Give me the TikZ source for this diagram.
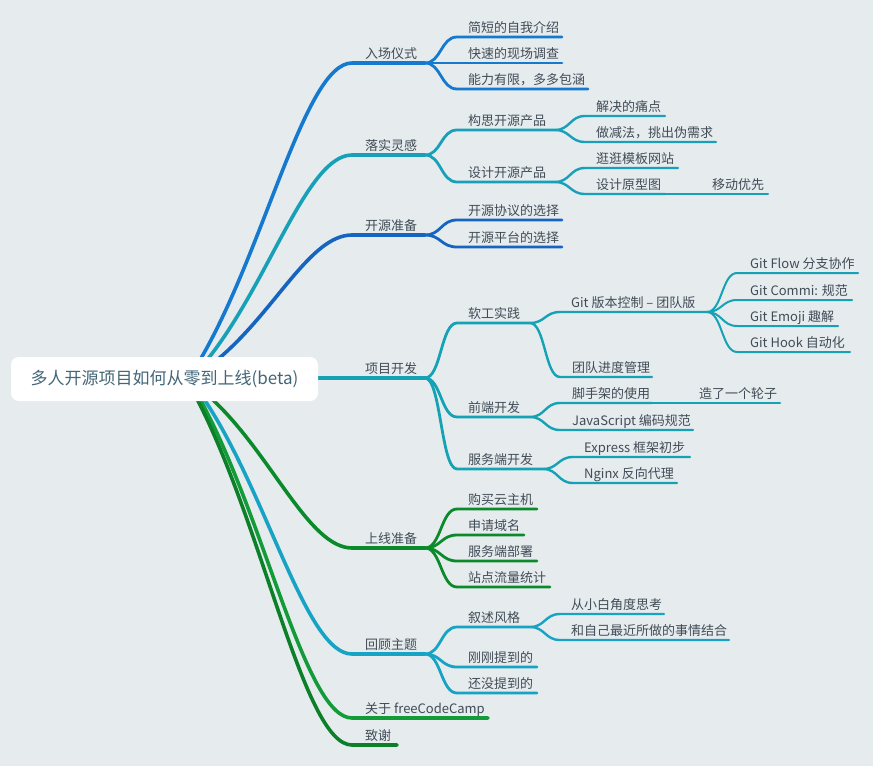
\documentclass[tikz,border=0pt]{standalone}
\usepackage{fontspec}
\setmainfont{Noto Sans CJK SC}
\usetikzlibrary{calc}
\pgfdeclarelayer{bg}
\pgfsetlayers{bg,main}
\definecolor{bgc}{HTML}{E6EBEE}
\definecolor{txt}{HTML}{404C56}
\definecolor{rootc}{HTML}{436678}
\definecolor{cA}{HTML}{1479CF}
\definecolor{cB}{HTML}{17A0B7}
\definecolor{cC}{HTML}{1565C0}
\definecolor{cD}{HTML}{14A2B4}
\definecolor{cE}{HTML}{0B8A2B}
\definecolor{cF}{HTML}{17A4C4}
\definecolor{cG}{HTML}{129B38}
\definecolor{cH}{HTML}{0C8028}
\newcommand\mmnode[6]{%
  \node[lbl] (#1) at (#3,#4-5) {#6};
  \coordinate (#1-l) at (#2,#4);
  \coordinate (#1-r) at (#5,#4);}
\newcommand\mmlink[3]{%
  \draw[#1] let \p1=(#2), \p2=(#3-l) in (\p1) .. controls ({0.5*\x1+0.5*\x2},\y1) and ({0.5*\x1+0.5*\x2},\y2) .. (\p2) -- (#3-r);}
\begin{document}
\begin{tikzpicture}[x=1pt,y=-1pt,
  lbl/.style={anchor=base west, inner sep=0pt, text=txt, font=\fontsize{13}{15}\selectfont},
  rootbox/.style={fill=white, rounded corners=8pt, minimum width=307pt, minimum height=44pt, inner sep=0pt, text=rootc, font=\fontsize{17}{20}\selectfont},
  Lone/.style={line width=3.6pt, line cap=round},
  Ltwo/.style={line width=2.8pt, line cap=round},
  Lthree/.style={line width=2.4pt, line cap=round},
  Lfour/.style={line width=2pt, line cap=round}]
\useasboundingbox (0,0) rectangle (873,766);
\begin{pgfonlayer}{bg}
\fill[bgc] (0,0) rectangle (873,766);
\end{pgfonlayer}

\node[rootbox] (root) at (164.5,379) {多人开源项目如何从零到上线(beta)};

% start points of main branches (under the root box)
\coordinate (s1) at (200,360);
\coordinate (s2) at (207,360);
\coordinate (s3) at (217,360);
\coordinate (s5) at (212,399);
\coordinate (s6) at (204,399);
\coordinate (s7) at (200,399);
\coordinate (s8) at (197,399);

% level 1
\mmnode{rc}{352}{365}{63}{425}{入场仪式}
\mmnode{lg}{352}{365}{155}{425}{落实灵感}
\mmnode{zb}{352}{365}{235}{425}{开源准备}
\mmnode{kf}{318}{365}{378}{425}{项目开发}
\mmnode{sx}{352}{365}{548}{425}{上线准备}
\mmnode{hg}{352}{365}{654}{425}{回顾主题}
\mmnode{fcc}{352}{365}{718}{488}{关于 freeCodeCamp}
\mmnode{zx}{352}{365}{745}{397}{致谢}

% level 2
\mmnode{rca}{457}{468}{37}{562}{简短的自我介绍}
\mmnode{rcb}{457}{468}{63}{562}{快速的现场调查}
\mmnode{rcc}{457}{468}{89}{588}{能力有限，多多包涵}
\mmnode{lga}{457}{468}{130}{555}{构思开源产品}
\mmnode{lgb}{457}{468}{182}{555}{设计开源产品}
\mmnode{zba}{457}{468}{220}{562}{开源协议的选择}
\mmnode{zbb}{457}{468}{247}{562}{开源平台的选择}
\mmnode{kfa}{457}{468}{323}{530}{软工实践}
\mmnode{kfb}{457}{468}{417}{530}{前端开发}
\mmnode{kfc}{457}{468}{469}{543}{服务端开发}
\mmnode{sxa}{457}{468}{509}{537}{购买云主机}
\mmnode{sxb}{457}{468}{535}{524}{申请域名}
\mmnode{sxc}{457}{468}{561}{537}{服务端部署}
\mmnode{sxd}{457}{468}{587}{550}{站点流量统计}
\mmnode{hga}{457}{468}{627}{530}{叙述风格}
\mmnode{hgb}{457}{468}{667}{537}{刚刚提到的}
\mmnode{hgc}{457}{468}{693}{537}{还没提到的}

% level 3
\mmnode{lgaa}{585}{596}{116}{665}{解决的痛点}
\mmnode{lgab}{585}{596}{142}{716}{做减法，挑出伪需求}
\mmnode{lgba}{585}{596}{168}{678}{逛逛模板网站}
\mmnode{lgbb}{585}{596}{194}{665}{设计原型图}
\mmnode{kfaa}{560}{571}{312}{707}{Git 版本控制 – 团队版}
\mmnode{kfab}{560}{572}{377}{652}{团队进度管理}
\mmnode{kfba}{560}{572}{403}{652}{脚手架的使用}
\mmnode{kfbb}{560}{572}{430}{693}{JavaScript 编码规范}
\mmnode{kfca}{573}{584}{457}{690}{Express 框架初步}
\mmnode{kfcb}{573}{584}{483}{677}{Nginx 反向代理}
\mmnode{hgaa}{560}{571}{614}{664}{从小白角度思考}
\mmnode{hgab}{560}{571}{640}{729}{和自己最近所做的事情结合}

% level 4
\mmnode{ga}{737}{750}{273}{858}{Git Flow 分支协作}
\mmnode{gb}{737}{750}{300}{852}{Git Commi: 规范}
\mmnode{gc}{737}{750}{326}{838}{Git Emoji 趣解}
\mmnode{gd}{737}{750}{352}{850}{Git Hook 自动化}
\mmnode{yd}{690}{712}{194}{768}{移动优先}
\mmnode{lz}{680}{699}{403}{780}{造了一个轮子}

\begin{pgfonlayer}{bg}
% main branches
\draw[Lone,draw=cA] (s1) .. controls (265,249) and (305,63) .. (rc-l) -- (rc-r);
\draw[Lone,draw=cB] (s2) .. controls (269,283) and (307,155) .. (lg-l) -- (lg-r);
\draw[Lone,draw=cC] (s3) .. controls (275,312) and (310,235) .. (zb-l) -- (zb-r);
\draw[Lone,draw=cD] (root.east |- kf-l) -- (kf-r);
\draw[Lone,draw=cE] (s5) .. controls (272,455) and (309,548) .. (sx-l) -- (sx-r);
\draw[Lone,draw=cF] (s6) .. controls (268,495) and (306,654) .. (hg-l) -- (hg-r);
\draw[Lone,draw=cG] (s7) .. controls (265,518) and (305,718) .. (fcc-l) -- (fcc-r);
\draw[Lone,draw=cH] (s8) .. controls (264,528) and (304,745) .. (zx-l) -- (zx-r);

% level 2 links
\mmlink{Ltwo,draw=cA}{rc-r}{rca}
\mmlink{Ltwo,draw=cA}{rc-r}{rcb}
\mmlink{Ltwo,draw=cA}{rc-r}{rcc}
\mmlink{Ltwo,draw=cB}{lg-r}{lga}
\mmlink{Ltwo,draw=cB}{lg-r}{lgb}
\mmlink{Ltwo,draw=cC}{zb-r}{zba}
\mmlink{Ltwo,draw=cC}{zb-r}{zbb}
\mmlink{Ltwo,draw=cD}{kf-r}{kfa}
\mmlink{Ltwo,draw=cD}{kf-r}{kfb}
\mmlink{Ltwo,draw=cD}{kf-r}{kfc}
\mmlink{Ltwo,draw=cE}{sx-r}{sxa}
\mmlink{Ltwo,draw=cE}{sx-r}{sxb}
\mmlink{Ltwo,draw=cE}{sx-r}{sxc}
\mmlink{Ltwo,draw=cE}{sx-r}{sxd}
\mmlink{Ltwo,draw=cF}{hg-r}{hga}
\mmlink{Ltwo,draw=cF}{hg-r}{hgb}
\mmlink{Ltwo,draw=cF}{hg-r}{hgc}

% level 3 links
\mmlink{Lthree,draw=cB}{lga-r}{lgaa}
\mmlink{Lthree,draw=cB}{lga-r}{lgab}
\mmlink{Lthree,draw=cB}{lgb-r}{lgba}
\mmlink{Lthree,draw=cB}{lgb-r}{lgbb}
\mmlink{Lthree,draw=cD}{kfa-r}{kfaa}
\mmlink{Lthree,draw=cD}{kfa-r}{kfab}
\mmlink{Lthree,draw=cD}{kfb-r}{kfba}
\mmlink{Lthree,draw=cD}{kfb-r}{kfbb}
\mmlink{Lthree,draw=cD}{kfc-r}{kfca}
\mmlink{Lthree,draw=cD}{kfc-r}{kfcb}
\mmlink{Lthree,draw=cF}{hga-r}{hgaa}
\mmlink{Lthree,draw=cF}{hga-r}{hgab}

% level 4 links
\mmlink{Lfour,draw=cD}{kfaa-r}{ga}
\mmlink{Lfour,draw=cD}{kfaa-r}{gb}
\mmlink{Lfour,draw=cD}{kfaa-r}{gc}
\mmlink{Lfour,draw=cD}{kfaa-r}{gd}
\draw[Lfour,draw=cB] (lgbb-r) -- (yd-l) -- (yd-r);
\draw[Lfour,draw=cD] (kfba-r) -- (lz-l) -- (lz-r);
\end{pgfonlayer}
\end{tikzpicture}
\end{document}
